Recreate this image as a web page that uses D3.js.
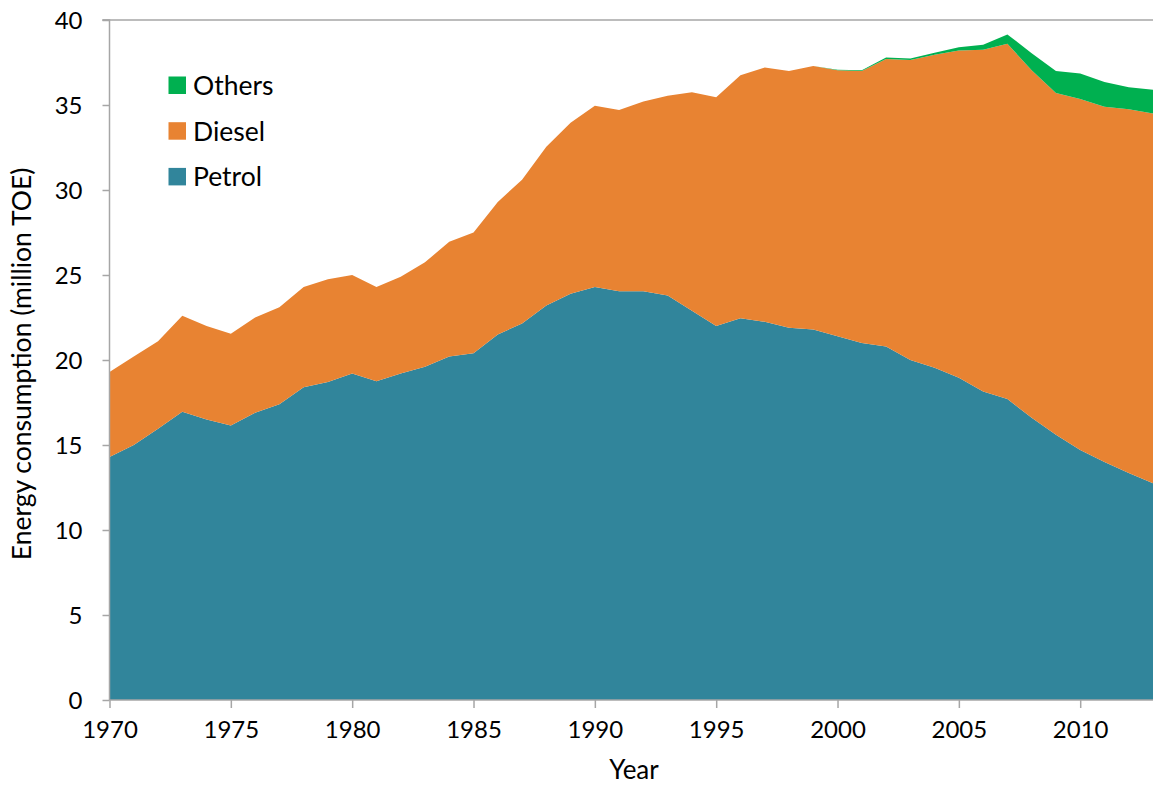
<!DOCTYPE html>
<html>
<head>
<meta charset="utf-8">
<script src="https://cdn.jsdelivr.net/npm/d3@7"></script>
<style>
  body { margin: 0; background: #fff; }
  svg text { font-family: Lato, "Open Sans", sans-serif; fill: #000; }
</style>
</head>
<body>
<svg id="chart" width="1153" height="785"></svg>
<script>
const years = d3.range(1970, 2014);
const petrol = [14.3, 15.0, 15.95, 16.95, 16.5, 16.15, 16.9, 17.4, 18.4, 18.7,
  19.2, 18.75, 19.2, 19.6, 20.2, 20.4, 21.5, 22.15, 23.2, 23.9,
  24.3, 24.05, 24.05, 23.8, 22.9, 22.0, 22.45, 22.25, 21.9, 21.8,
  21.4, 21.0, 20.8, 20.0, 19.55, 18.95, 18.15, 17.7, 16.6, 15.6,
  14.7, 14.0, 13.35, 12.75];
const diesel = [5.0, 5.2, 5.15, 5.65, 5.5, 5.4, 5.6, 5.7, 5.9, 6.05,
  5.8, 5.55, 5.7, 6.15, 6.75, 7.1, 7.8, 8.45, 9.35, 10.05,
  10.65, 10.65, 11.15, 11.75, 12.85, 13.45, 14.3, 14.95, 15.1, 15.5,
  15.65, 16.0, 16.9, 17.65, 18.4, 19.25, 20.1, 20.9, 20.45, 20.1,
  20.65, 20.9, 21.4, 21.75];
const others = [0, 0, 0, 0, 0, 0, 0, 0, 0, 0,
  0, 0, 0, 0, 0, 0, 0, 0, 0, 0,
  0, 0, 0, 0, 0, 0, 0, 0, 0, 0,
  0.02, 0.05, 0.1, 0.08, 0.12, 0.2, 0.3, 0.55, 1.0, 1.3,
  1.5, 1.45, 1.3, 1.4];
const seriesNames = ["Petrol", "Diesel", "Others"];
const colors = {Petrol: "#31859B", Diesel: "#E88332", Others: "#00B050"};
const xTicks = [1970, 1975, 1980, 1985, 1990, 1995, 2000, 2005, 2010];
const yTicks = [0, 5, 10, 15, 20, 25, 30, 35, 40];

const rows = years.map((y, i) => ({year: y, Petrol: petrol[i], Diesel: diesel[i], Others: others[i]}));

const margin = {left: 109.5, top: 20, right: 0, bottom: 85};
const W = 1153, H = 785;
const svg = d3.select("#chart");
const x = d3.scaleLinear().domain([1970, 2013]).range([margin.left, W - margin.right]);
const y = d3.scaleLinear().domain([0, 40]).range([700, margin.top]);

const stack = d3.stack().keys(seriesNames);
const layers = stack(rows);
const area = d3.area()
  .x(d => x(d.data.year))
  .y0(d => y(d[0]))
  .y1(d => y(d[1]));

svg.append("g").selectAll("path").data(layers).join("path")
  .attr("d", area)
  .attr("fill", d => colors[d.key]);

// top line at 40
svg.append("line")
  .attr("x1", margin.left - 7).attr("x2", W)
  .attr("y1", y(40)).attr("y2", y(40))
  .attr("stroke", "#A6A6A6").attr("stroke-width", 1.5);

// Y axis
const yAxis = d3.axisLeft(y).tickValues(yTicks).tickSize(7).tickPadding(20).tickFormat(d3.format("d"));
const gy = svg.append("g").attr("transform", `translate(${margin.left},0)`).call(yAxis);
gy.select(".domain").attr("stroke", "#A6A6A6").attr("stroke-width", 1.5).attr("d", `M-7,${y(40)}H0V${y(0)}`);
gy.selectAll(".tick line").attr("stroke", "#A6A6A6").attr("stroke-width", 1.5);
gy.selectAll(".tick text").style("font-size", "24px").attr("dy", "0.35em");

// X axis
const xAxis = d3.axisBottom(x).tickValues(xTicks).tickSize(8).tickPadding(13).tickFormat(d3.format("d"));
const gx = svg.append("g").attr("transform", `translate(0,700)`).call(xAxis);
gx.select(".domain").attr("stroke", "#A6A6A6").attr("stroke-width", 1.5).attr("d", `M${margin.left},0H${W}`);
gx.selectAll(".tick line").attr("stroke", "#A6A6A6").attr("stroke-width", 1.5);
gx.selectAll(".tick text").style("font-size", "24px");

// Axis titles
svg.append("text")
  .attr("transform", `translate(31,${(y(0) + y(40)) / 2 + 4}) rotate(-90)`)
  .attr("text-anchor", "middle")
  .style("font-size", "26.5px")
  .text("Energy consumption (million TOE)");
svg.append("text")
  .attr("x", 634).attr("y", 779)
  .attr("text-anchor", "middle")
  .style("font-size", "26px")
  .text("Year");

// Legend
const legendItems = ["Others", "Diesel", "Petrol"];
const lg = svg.append("g");
legendItems.forEach((name, i) => {
  const cy = 85.5 + i * 45.7;
  lg.append("rect").attr("x", 168.5).attr("y", cy - 9).attr("width", 17.5).attr("height", 17.5)
    .attr("fill", colors[name]);
  lg.append("text").attr("x", 193).attr("y", cy).attr("dy", "0.36em")
    .style("font-size", "26.5px").text(name);
});
</script>
</body>
</html>
